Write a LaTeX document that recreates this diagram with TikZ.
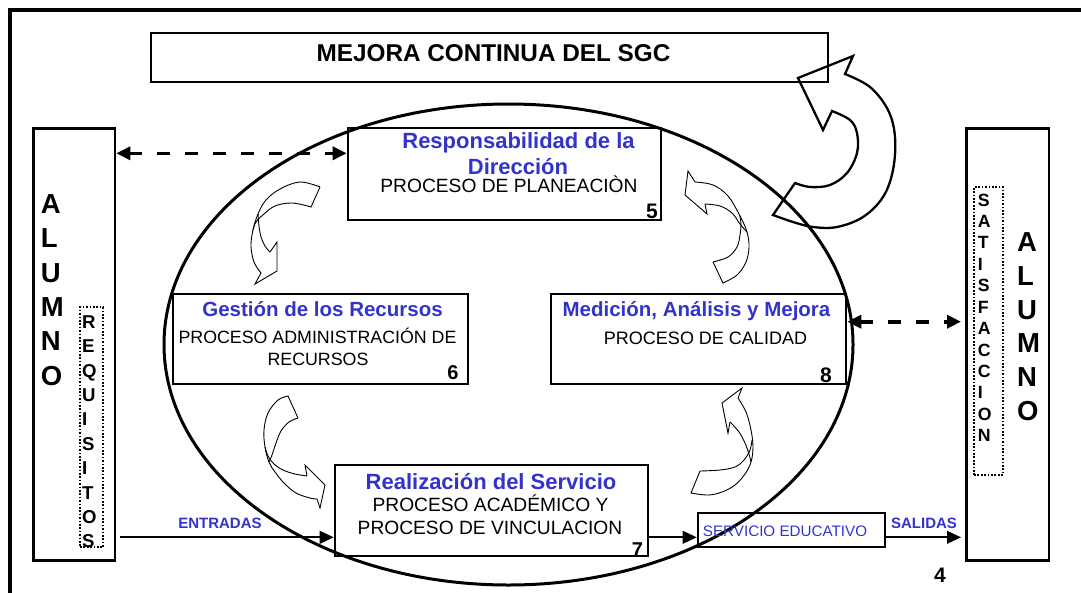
\documentclass[tikz,border=0pt]{standalone}
\usepackage{fontspec}
\setmainfont{Liberation Sans}
\usetikzlibrary{arrows.meta}
\definecolor{tblue}{RGB}{51,51,204}
\newcommand\fsz[1]{\fontsize{#1}{#1}\selectfont}
\begin{document}
\begin{tikzpicture}[x=1pt,y=-1pt,
  box/.style={draw,line width=2.6pt,inner sep=0},
  dotbox/.style={draw,line width=1.7pt,dash pattern=on 1.7pt off 1.7pt,inner sep=0},
  txt/.style={inner sep=0,anchor=base},
  ltr/.style={inner sep=0,anchor=base west},
  dasharrow/.style={line width=3.6pt,dash pattern=on 13pt off 15pt,{Triangle[length=14pt,width=13pt]}-{Triangle[length=14pt,width=13pt]}},
  solidarrow/.style={line width=1.8pt,-{Triangle[length=14pt,width=12.7pt]}},
  carrow/.style={line width=0.9pt,line join=miter},
  bigarrow/.style={line width=2.3pt,line join=miter}]
\useasboundingbox (0,0) rectangle (1081,592);
\begin{scope}
\clip (0,0) rectangle (1081,592);
\draw[line width=3.3pt] (10,10) rectangle (1100,610);
\end{scope}

% ellipse
\draw[line width=3pt] (508.5,344.5) ellipse [x radius=344.5pt, y radius=240.5pt];

% boxes
\node[box,minimum width=677pt,minimum height=49pt] (mejora) at (489.5,57.5) {};
\node[box,minimum width=313pt,minimum height=92pt] (resp) at (504.5,174) {};
\node[box,minimum width=295pt,minimum height=90pt] (gest) at (320.5,339) {};
\node[box,minimum width=295pt,minimum height=90pt] (med) at (698.5,339) {};
\node[box,minimum width=313pt,minimum height=91pt] (real) at (491.5,510.5) {};
\node[box,minimum width=187pt,minimum height=34pt] (serv) at (791.5,530) {};
\node[box,minimum width=81.7pt,minimum height=432.4pt] (alumL) at (74.15,344.5) {};
\node[box,minimum width=82.3pt,minimum height=432.4pt] (alumR) at (1007.85,344.5) {};
\node[dotbox,minimum width=23.3pt,minimum height=240pt] (req) at (91.65,427.3) {};
\node[dotbox,minimum width=29pt,minimum height=288pt] (sat) at (988.5,331) {};

% texts
\node[txt] (tmej) at (493.5,61.7) {\fsz{24.3}\bfseries MEJORA CONTINUA DEL SGC};
\node[txt,text=tblue] (tresp1) at (518.5,148.3) {\fsz{22}\bfseries Responsabilidad de la};
\node[txt,text=tblue] (tresp2) at (518,174) {\fsz{22}\bfseries Dirección};
\node[txt] (tresp3) at (509,192.3) {\fsz{19.2}PROCESO DE PLANEACIÒN};
\node[txt] (n5) at (652,218.3) {\fsz{21}\bfseries 5};

\node[txt,text=tblue] (tgest1) at (322.5,316.7) {\fsz{20.5}\bfseries Gestión de los Recursos};
\node[txt] (tgest2) at (317.5,343.3) {\fsz{17.8}PROCESO ADMINISTRACIÓN DE};
\node[txt] (tgest3) at (318,365) {\fsz{17.8}RECURSOS};
\node[txt] (n6) at (453,379.3) {\fsz{20}\bfseries 6};

\node[txt,text=tblue] (tmed1) at (696.5,316.7) {\fsz{20.5}\bfseries Medición, Análisis y Mejora};
\node[txt] (tmed2) at (705.5,344) {\fsz{18}PROCESO DE CALIDAD};
\node[txt] (n8) at (826,382.7) {\fsz{21}\bfseries 8};

\node[txt,text=tblue] (treal1) at (491,489.3) {\fsz{22}\bfseries Realización del Servicio};
\node[txt] (treal2) at (490.5,511.7) {\fsz{19.2}PROCESO ACADÉMICO Y};
\node[txt] (treal3) at (490,534) {\fsz{19.2}PROCESO DE VINCULACION};
\node[txt] (n7) at (637.5,556.7) {\fsz{20}\bfseries 7};

\node[txt,text=tblue] (tserv) at (785,536.7) {\fsz{15.2}SERVICIO EDUCATIVO};
\node[txt,text=tblue] (tent) at (220,528.3) {\fsz{15}\bfseries ENTRADAS};
\node[txt,text=tblue] (tsal) at (924,528.3) {\fsz{15}\bfseries SALIDAS};
\node[txt] (n4) at (940,582.7) {\fsz{21}\bfseries 4};

% letter stacks
\foreach \c [count=\i] in {A,L,U,M,N,O}
  \node[ltr] (al\i) at (40.7,{213.3+34.4*(\i-1)}) {\fsz{27.5}\bfseries \c};
\foreach \c [count=\i] in {A,L,U,M,N,O}
  \node[ltr] (ar\i) at (1017,{251.7+33.66*(\i-1)}) {\fsz{27.5}\bfseries \c};
\begin{scope}
\clip (80,307.3) rectangle (103.3,547.5);
\foreach \c [count=\i] in {R,E,Q,U,I,S,I,T,O,S}
  \node[ltr] (rq\i) at (82,{328.3+24.4*(\i-1)}) {\fsz{18.6}\bfseries \c};
\end{scope}
\foreach \c [count=\i] in {S,A,T,I,S,F,A,C,C,I,O,N}
  \node[ltr] (st\i) at (977.7,{206+21.43*(\i-1)}) {\fsz{17.7}\bfseries \c};

% connectors
\coordinate (dt) at (0,153.3);
\draw[dasharrow] (alumL.east |- dt) -- (resp.west |- dt);
\coordinate (dr) at (961,321.7);
\draw[dasharrow] (med.east |- dr) -- (dr);
\coordinate (ein) at (120,537.3);
\draw[solidarrow] (ein) -- (real.west |- ein);
\draw[solidarrow] (real.east |- ein) -- (serv.west |- ein);
\coordinate (sal) at (961,537.3);
\draw[solidarrow] (serv.east |- sal) -- (sal);

% curved arrow 1 (top left)
\draw[carrow] plot[smooth,tension=0.6] coordinates {(320,187) (300,182) (280,189) (266,200) (258,214) (253,230) (251,246) (254,262) (261,273)} -- (255,284) -- (277,271) -- (277,242) -- (270,252);
\draw[carrow] plot[smooth,tension=0.6] coordinates {(270,252) (265,246) (261,237) (259,226) (258,214)};
\draw[carrow] (320,187) -- plot[smooth,tension=0.6] coordinates {(311,207) (292,203) (275,206) (264,214) (256,222) (253,230)};

% curved arrow 2 (top right)
\draw[carrow] (705,204) -- (707,214) -- (685,195) -- (688,171) -- plot[smooth,tension=0.6] coordinates {(695,182) (713,185) (728,196) (740,216) (747,232) (749,247) (746,262) (737,275) (723,283)} -- (713,262);
\draw[carrow] plot[smooth,tension=0.6] coordinates {(705,204) (720,206) (732,213) (740,224) (747,232)};
\draw[carrow] plot[smooth,tension=0.6] coordinates {(713,262) (728,257) (737,247) (740,235) (741,225) (740,216)};

% curved arrow 3 (bottom left)
\draw[carrow] (298,418) -- plot[smooth,tension=0.6] coordinates {(288,396) (278,400) (268,413) (264,430) (265,447) (269,462) (275,472) (284,483) (296,493) (310,498) (317,499)} -- (320,508) -- (325,485) -- (305,465) -- (307,476);
\draw[carrow] plot[smooth,tension=0.6] coordinates {(265,447) (268,456) (274,464) (283,470) (295,474) (307,476)};
\draw[carrow] plot[smooth,tension=0.6] coordinates {(298,418) (289,422) (281,431) (276,443) (272,455) (269,462)};

% curved arrow 4 (bottom right)
\draw[carrow] (730,422) -- (728,433) -- (722,403) -- (742,388) -- plot[smooth,tension=0.6] coordinates {(738,398) (746,412) (751,430) (753,447) (751,462) (745,474) (735,485) (722,492) (708,495) (691,493)} -- (700,471);
\draw[carrow] plot[smooth,tension=0.6] coordinates {(730,422) (739,432) (745,443) (749,454) (751,462)};
\draw[carrow] plot[smooth,tension=0.6] coordinates {(700,471) (720,470) (735,467) (744,460) (750,450) (752,440)};

% big arrow
\draw[bigarrow] (773,215) -- plot[smooth,tension=0.6] coordinates {(795,183) (810,187) (830,185) (847,173) (857,153) (857,133) (850,120) (832,111)} -- (823,130) -- (798,78) -- (853,56) -- plot[smooth,tension=0.6] coordinates {(845,74) (870,87) (888,110) (895,137) (893,170) (883,197) (863,217) (837,227) (813,227) (793,222) (773,215)} -- cycle;
\end{tikzpicture}
\end{document}
